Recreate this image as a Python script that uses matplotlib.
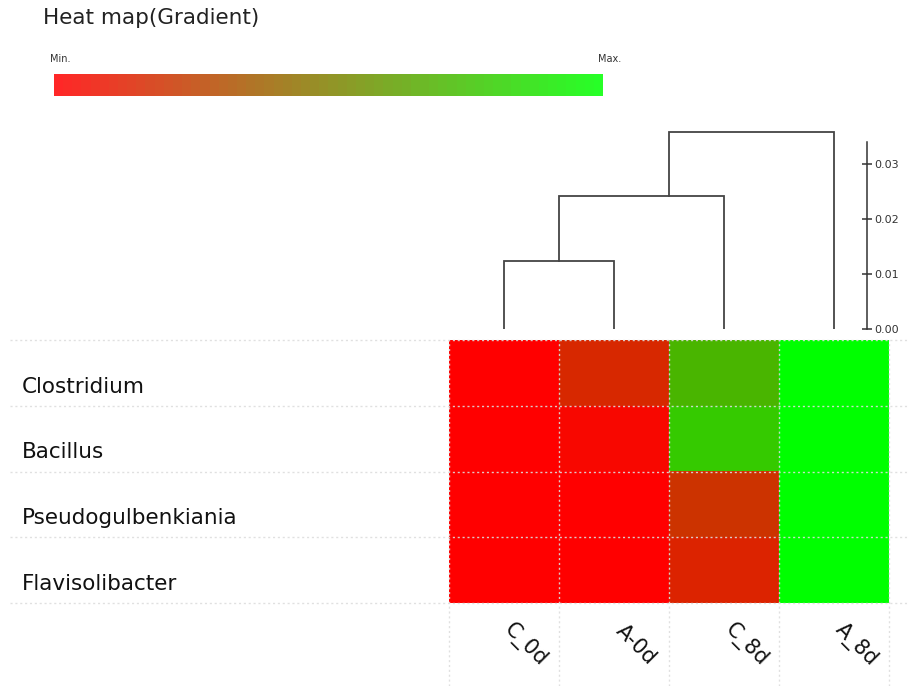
import matplotlib
matplotlib.use("Agg")
import matplotlib.pyplot as plt
import matplotlib.transforms as mtransforms
from matplotlib.colors import LinearSegmentedColormap
import numpy as np

# heat map values (0 = min / red, 1 = max / green)
rows = ["Clostridium", "Bacillus", "Pseudogulbenkiania", "Flavisolibacter"]
cols = ["C_0d", "A-0d", "C_8d", "A_8d"]
clostridium = [0.00, 0.16, 0.71, 1.00]
bacillus = [0.00, 0.03, 0.79, 1.00]
pseudogulbenkiania = [0.00, 0.00, 0.20, 1.00]
flavisolibacter = [0.00, 0.00, 0.14, 1.00]

# dendrogram links (column units / distance)
link_left_x = [0, 0.5, 1.5]
link_right_x = [1, 2, 3]
link_left_h = [0.0, 0.0124, 0.0242]
link_right_h = [0.0, 0.0, 0.0]
link_h = [0.0124, 0.0242, 0.0358]

scale_ticks = [0.00, 0.01, 0.02, 0.03]

W, H = 908, 686
fig = plt.figure(figsize=(W / 100, H / 100), dpi=100)
plt.rcParams['font.family'] = ['DejaVu Sans']

cmap = LinearSegmentedColormap.from_list("rg", ["#ff0000", "#00ff00"], N=256)

def px_axes(x0, y0, x1, y1):
    return fig.add_axes([x0 / W, 1 - y1 / H, (x1 - x0) / W, (y1 - y0) / H])

# title + gradient legend
fig.text(43 / W, 1 - 18 / H, "Heat map(Gradient)", fontsize=15.5, ha='left', va='center', color='#222222')
ax_bar = px_axes(54, 74, 603, 96)
ax_bar.imshow(np.linspace(0, 1, 60)[None, :], cmap=cmap, aspect='auto', alpha=0.85)
ax_bar.axis('off')
ax_bar.text(-0.008, 1.68, "Min.", transform=ax_bar.transAxes, fontsize=7, ha='left', va='center', color='#333333')
ax_bar.text(0.991, 1.68, "Max.", transform=ax_bar.transAxes, fontsize=7, ha='left', va='center', color='#333333')

# heat map
data = np.array([clostridium, bacillus, pseudogulbenkiania, flavisolibacter])
ax_hm = px_axes(449, 340, 889, 603)
ax_hm.imshow(data, cmap=cmap, vmin=0, vmax=1, aspect='auto', interpolation='nearest')
ax_hm.set_xlim(-0.5, len(cols) - 0.5)
ax_hm.set_ylim(len(rows) - 0.5, -0.5)
ax_hm.axis('off')

grid_kw = dict(color='#dddddd', lw=1, linestyle=(0, (1.5, 2)), clip_on=False, alpha=0.9)
for yb in np.arange(len(rows) + 1) - 0.5:
    ax_hm.axhline(yb, xmin=(10 - 449) / 440, xmax=(908 - 449) / 440, **grid_kw)
for xb in np.arange(len(cols) + 1) - 0.5:
    ax_hm.axvline(xb, ymin=(603 - 686) / 263, ymax=1, **grid_kw)

tr_rows = mtransforms.blended_transform_factory(fig.transFigure, ax_hm.transData)
for i, name in enumerate(rows):
    ax_hm.text(22 / W, i + 0.21, name, transform=tr_rows, fontsize=15.5,
               ha='left', va='center', color='#111111')

tr_cols = mtransforms.blended_transform_factory(ax_hm.transData, fig.transFigure)
for j, name in enumerate(cols):
    ax_hm.text(j + 0.2, 1 - 645 / H, name, transform=tr_cols, fontsize=15,
               rotation=-45, rotation_mode='anchor', ha='center', va='center', color='#111111')

# dendrogram
ax_dg = px_axes(449, 120, 889, 329)
for lx, rx, lh, rh, h in zip(link_left_x, link_right_x, link_left_h, link_right_h, link_h):
    ax_dg.plot([lx, lx, rx, rx], [lh, h, h, rh], color='#444444', lw=1.3, solid_joinstyle='miter')
ax_dg.set_xlim(-0.5, len(cols) - 0.5)
ax_dg.set_ylim(0, 209 / 55 * 0.01)
ax_dg.axis('off')

# distance scale
ax_sc = px_axes(857, 120, 867, 329)
ax_sc.set_ylim(0, 209 / 55 * 0.01)
ax_sc.patch.set_visible(False)
for s in ['left', 'top', 'bottom']:
    ax_sc.spines[s].set_visible(False)
ax_sc.spines['right'].set_bounds(0, 0.034)
ax_sc.spines['right'].set_color('#333333')
ax_sc.spines['right'].set_linewidth(1.1)
ax_sc.set_xticks([])
ax_sc.yaxis.tick_right()
ax_sc.set_yticks(scale_ticks)
ax_sc.set_yticklabels([f"{t:.2f}" for t in scale_ticks])
ax_sc.tick_params(axis='y', direction='inout', length=7, width=1.1, color='#333333',
                  labelsize=8, labelcolor='#333333', pad=2)

fig.savefig("out.png", dpi=100)
